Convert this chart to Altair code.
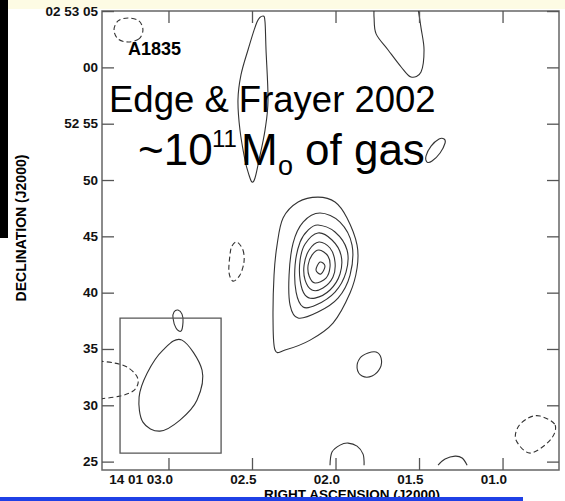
import altair as alt
import pandas as pd

# ---- axis tick values and labels ----
# RA: seconds past 14h 01m ; Dec: arcsec past +02 52 00
ra_ticks = [3.0, 2.5, 2.0, 1.5, 1.0]
ra_labels = ["14 01 03.0", "02.5", "02.0", "01.5", "01.0"]
dec_ticks = [25, 30, 35, 40, 45, 50, 55, 60, 65]
dec_labels = ["25", "30", "35", "40", "45", "50", "52 55", "00", "02 53 05"]

# ---- contours (RA s, Dec arcsec) ----
ring1 = [(2.108, 48.53), (2.006, 48.09), (1.934, 46.67), (1.874, 44.27), (1.874, 42.23),
         (1.916, 40.01), (2.018, 37.34), (2.155, 35.83), (2.305, 34.95), (2.365, 34.95),
         (2.377, 37.61), (2.371, 41.61), (2.353, 44.27), (2.317, 46.67), (2.227, 48.09)]
ring2 = [(2.096, 47.11), (1.976, 46.31), (1.904, 44.27), (1.916, 41.61), (1.988, 39.56),
         (2.108, 38.32), (2.227, 37.79), (2.275, 38.94), (2.281, 41.61), (2.257, 44.45),
         (2.197, 46.31)]
ring3 = [(2.108, 46.05), (2.006, 45.43), (1.934, 43.83), (1.940, 41.87), (2.006, 40.10),
         (2.120, 38.94), (2.197, 38.77), (2.239, 40.10), (2.245, 42.50), (2.215, 44.54),
         (2.167, 45.60)]
ring4 = [(2.108, 45.34), (2.024, 44.72), (1.970, 43.38), (1.976, 41.70), (2.036, 40.28),
         (2.126, 39.56), (2.185, 39.83), (2.215, 41.16), (2.215, 42.94), (2.185, 44.36)]
ring5 = [(2.102, 44.54), (2.036, 44.01), (2.006, 42.76), (2.018, 41.43), (2.078, 40.45),
         (2.144, 40.28), (2.185, 41.16), (2.191, 42.50), (2.161, 43.83)]
ring6 = [(2.102, 43.83), (2.048, 43.29), (2.036, 42.32), (2.060, 41.34), (2.126, 40.90),
         (2.161, 41.52), (2.167, 42.50), (2.144, 43.38)]
ring7 = [(2.096, 42.76), (2.066, 42.41), (2.090, 41.70), (2.120, 42.05)]
vert_loop = [(2.437, 64.61), (2.425, 64.08), (2.419, 61.59), (2.407, 57.15), (2.425, 54.48),
             (2.461, 51.82), (2.485, 50.22), (2.503, 49.87), (2.521, 50.49), (2.545, 51.82),
             (2.575, 54.48), (2.587, 57.15), (2.569, 59.37), (2.527, 61.59), (2.473, 64.08)]
near_gas = [(1.347, 53.33), (1.377, 52.44), (1.425, 51.73), (1.455, 51.64), (1.461, 52.18),
            (1.431, 53.06), (1.383, 53.69), (1.353, 53.69)]
small_se = [(1.760, 34.77), (1.730, 34.24), (1.736, 33.35), (1.784, 32.64), (1.844, 32.64),
            (1.874, 33.35), (1.856, 34.24), (1.808, 34.68)]
small_box = [(2.946, 38.50), (2.922, 38.14), (2.916, 37.43), (2.928, 36.63), (2.958, 36.90),
             (2.976, 37.79), (2.970, 38.32)]
beam = [(2.922, 35.83), (2.802, 33.17), (2.832, 30.51), (2.934, 28.73), (3.054, 27.75),
        (3.156, 28.55), (3.179, 30.77), (3.131, 32.90), (3.036, 34.95)]

dashed_tl = [(3.156, 63.37), (3.180, 62.57), (3.245, 62.30), (3.305, 62.57), (3.329, 63.37),
             (3.305, 64.17), (3.245, 64.43), (3.180, 64.17)]
dashed_mid = [(2.593, 44.54), (2.557, 43.83), (2.551, 42.76), (2.575, 41.61), (2.617, 41.07),
              (2.641, 41.87), (2.635, 43.38), (2.623, 44.18)]
dashed_br = [(0.778, 29.09), (0.688, 28.29), (0.718, 26.95), (0.838, 25.80), (0.922, 26.95),
             (0.910, 28.11), (0.850, 28.91)]

tr_open = [(1.772, 65.3), (1.772, 64.43), (1.760, 63.02), (1.688, 61.59), (1.610, 60.08),
           (1.551, 59.19), (1.491, 59.64), (1.473, 61.59), (1.491, 63.55), (1.509, 65.3)]
arc1 = [(2.036, 24.73), (2.024, 25.89), (1.976, 26.51), (1.928, 26.69), (1.874, 26.42),
        (1.838, 25.71), (1.832, 24.73)]
arc2 = [(1.389, 24.73), (1.347, 25.27), (1.287, 25.53), (1.245, 25.36), (1.215, 24.73)]
left_dashed_open = [(3.42, 33.97), (3.323, 33.79), (3.251, 33.44), (3.197, 32.73),
                    (3.185, 32.02), (3.215, 31.31), (3.293, 30.86), (3.42, 30.60)]

# beam box corners
box_ra = [3.293, 2.688]
box_dec = [25.80, 37.79]


def to_df(groups):
    rows = []
    for name, pts in groups.items():
        for i, (r, d) in enumerate(pts):
            rows.append({"cid": name, "idx": i, "ra": r, "dec": d})
    return pd.DataFrame(rows)


closed_solid = to_df({"r1": ring1, "r2": ring2, "r3": ring3, "r4": ring4, "r5": ring5,
                      "r6": ring6, "r7": ring7, "vl": vert_loop, "ng": near_gas,
                      "se": small_se, "sb": small_box, "bm": beam})
closed_dash = to_df({"tl": dashed_tl, "md": dashed_mid, "br": dashed_br})
open_solid = to_df({"tr": tr_open, "a1": arc1, "a2": arc2})
open_dash = to_df({"ld": left_dashed_open})

xs = alt.Scale(domain=[0.665, 3.401], reverse=True, nice=False, zero=False)
ys = alt.Scale(domain=[24.3, 65.05], nice=False, zero=False)

FONT = "Liberation Sans"
LC = "#333333"
W, H, TL = 457, 459, 12


def contour_layer(df, interp, dash, clip=False):
    kw = dict(interpolate=interp, color=LC, strokeWidth=1.1, clip=clip)
    if dash:
        kw["strokeDash"] = [5, 3]
    return alt.Chart(df).mark_line(**kw).encode(
        x=alt.X("ra:Q", scale=xs, axis=None),
        y=alt.Y("dec:Q", scale=ys, axis=None),
        detail="cid:N",
        order="idx:Q",
    )


main = contour_layer(closed_solid, "cardinal-closed", False)
dash_closed = contour_layer(closed_dash, "cardinal-closed", True)
solid_open = contour_layer(open_solid, "cardinal", False, clip=True)
dash_open = contour_layer(open_dash, "cardinal", True, clip=True)

box_df = pd.DataFrame({"x1": [box_ra[0]], "x2": [box_ra[1]], "y1": [box_dec[0]], "y2": [box_dec[1]]})
box = alt.Chart(box_df).mark_rect(fillOpacity=0, stroke="#555555", strokeWidth=1.3).encode(
    x=alt.X("x1:Q", scale=xs, axis=None), x2="x2:Q",
    y=alt.Y("y1:Q", scale=ys, axis=None), y2="y2:Q")

# inward ticks
dec_df = pd.DataFrame({"v": dec_ticks, "lab": dec_labels})
ra_df = pd.DataFrame({"v": ra_ticks, "lab": ra_labels})
tick_style = dict(color="#555555", strokeWidth=1.3)
t_left = alt.Chart(dec_df).mark_rule(**tick_style).encode(
    y=alt.Y("v:Q", scale=ys, axis=None), x=alt.value(0), x2=alt.value(TL))
t_right = alt.Chart(dec_df).mark_rule(**tick_style).encode(
    y=alt.Y("v:Q", scale=ys, axis=None), x=alt.value(W - TL), x2=alt.value(W))
t_bot = alt.Chart(ra_df).mark_rule(**tick_style).encode(
    x=alt.X("v:Q", scale=xs, axis=None), y=alt.value(H - TL), y2=alt.value(H))
t_top = alt.Chart(ra_df).mark_rule(**tick_style).encode(
    x=alt.X("v:Q", scale=xs, axis=None), y=alt.value(0), y2=alt.value(TL))

# tick labels
lab_style = dict(font=FONT, fontSize=13.5, fontWeight="bold", color="#111111")
l_left = alt.Chart(dec_df).mark_text(align="right", baseline="middle", **lab_style).encode(
    y=alt.Y("v:Q", scale=ys, axis=None), x=alt.value(-4), text="lab:N")
l_bot = alt.Chart(ra_df).mark_text(align="right", baseline="top", dx=4, **lab_style).encode(
    x=alt.X("v:Q", scale=xs, axis=None), y=alt.value(H + 3), text="lab:N")


# page decorations (outside the plot)
def band(x1, x2, y1, y2, col):
    return alt.Chart(pd.DataFrame({"a": [0]})).mark_rect(color=col).encode(
        x=alt.value(x1), x2=alt.value(x2), y=alt.value(y1), y2=alt.value(y2))


yellow = band(-102, 463, -11, -2, "#fdfbe4")
black = band(-102, -94, -11, 227, "#000000")
blue = band(-102, 421, 486, 490, "#1f40e6")


def txt(s, x, y, size, weight="normal", align="left", angle=0, baseline="alphabetic"):
    kw = dict(text=s, font=FONT, fontSize=size, fontWeight=weight, align=align,
              baseline=baseline, color="#000000")
    if angle:
        kw["angle"] = angle
    return alt.Chart(pd.DataFrame({"a": [0]})).mark_text(**kw).encode(
        x=alt.value(x), y=alt.value(y))


texts = [
    txt("A1835", 26, 44, 18, "bold"),
    txt("Edge & Frayer 2002", 7, 101, 36.5),
    txt("~10", 36, 154, 44),
    txt("11", 110, 136, 24),
    txt("M", 139, 154, 44),
    txt("o", 176, 164, 27),
    txt("of gas", 203, 154, 44),
    txt("DECLINATION (J2000)", -80, 217, 14, "bold", "center", 270, "middle"),
    txt("RIGHT ASCENSION (J2000)", 250, 488, 13.5, "bold", "center"),
]

chart = alt.layer(
    yellow, black,
    main, dash_closed, solid_open, dash_open, box,
    t_left, t_right, t_bot, t_top, l_left, l_bot,
    *texts,
    blue,
).properties(
    width=W, height=H,
    autosize=alt.AutoSizeParams(type="none"),
    padding={"left": 102, "top": 11, "right": 6, "bottom": 31},
).configure(
    background="white",
).configure_view(
    stroke="#666666", strokeWidth=1.5,
)

chart.save("out.html", embed_options={"renderer": "svg", "actions": False})
